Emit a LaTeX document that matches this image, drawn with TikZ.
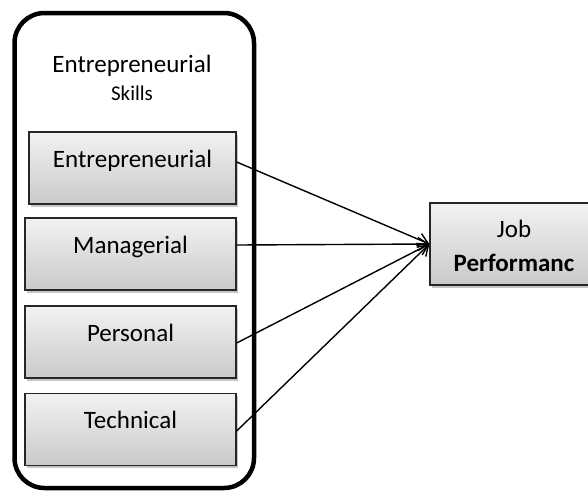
\documentclass[tikz,border=0pt]{standalone}
\usepackage{fontspec}
\setmainfont{Carlito}
\usetikzlibrary{arrows.meta,shadows,calc}

\tikzset{
  skillbox/.style={draw=black!85, line width=1.3pt, top color=gray!10, bottom color=gray!42,
    drop shadow={shadow xshift=2pt, shadow yshift=-2.5pt, fill=black!45, opacity=0.5},
    minimum width=211pt, inner ysep=0pt, text height=35pt, text depth=37pt,
    font=\fontsize{25}{30}\selectfont},
  perfbox/.style={draw=black!85, line width=1.3pt, top color=gray!10, bottom color=gray!42,
    drop shadow={shadow xshift=2pt, shadow yshift=-2.5pt, fill=black!45, opacity=0.5},
    minimum width=162pt, minimum height=82pt},
  frame/.style={draw, line width=4.5pt, rounded corners=30pt,
    minimum width=239.5pt, minimum height=475pt},
  link/.style={line width=1.4pt, -{Straight Barb[length=10pt,width=13pt]}}
}

\begin{document}
\begin{tikzpicture}[x=1pt, y=-1pt]
  \clip (0,0) rectangle (588,496);

  \node[frame] (outer) at (134.25,250.5) {};
  \node[anchor=base, font=\fontsize{25}{30}\selectfont] (title) at (132,72) {Entrepreneurial};
  \node[anchor=base, font=\fontsize{21}{25}\selectfont] (subtitle) at (132,100) {Skills};

  \node[skillbox, minimum width=207pt] (ent) at (132.5,168) {Entrepreneurial};
  \node[skillbox] (man) at (130.5,254) {Managerial};
  \node[skillbox] (per) at (130.5,342) {Personal};
  \node[skillbox] (tec) at (130.5,429.5) {Technical};

  \node[perfbox] (job) at (511,244) {};
  \node[anchor=base, font=\fontsize{25}{30}\selectfont] (jobtxt) at (514,237) {Job};
  \node[anchor=base, font=\fontsize{25}{30}\selectfont\bfseries] (perftxt) at (514,271) {Performanc};

  \draw[link] ($(ent.east)+(0,-6)$) -- (job.west);
  \draw[link] ($(man.east)+(0,-9)$) -- (job.west);
  \draw[link] ($(per.east)+(0,1)$) -- (job.west);
  \draw[link] ($(tec.east)+(0,1.5)$) -- (job.west);
\end{tikzpicture}
\end{document}
